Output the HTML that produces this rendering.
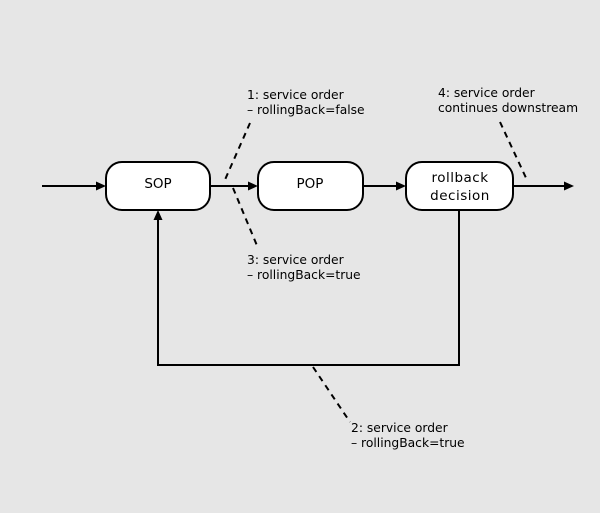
<!DOCTYPE html>
<html><head><meta charset="utf-8"><style>
html,body{margin:0;padding:0;background:#e6e6e6;}
svg{display:block;}
text{font-family:"DejaVu Sans","Liberation Sans",sans-serif;fill:#000;}
</style></head><body>
<svg width="600" height="513" viewBox="0 0 600 513" xmlns="http://www.w3.org/2000/svg">
<rect width="600" height="513" fill="#e6e6e6"/>
<g stroke="#000" stroke-width="2" fill="none">
<line x1="42" y1="186" x2="98" y2="186"/>
<line x1="211" y1="186" x2="249" y2="186"/>
<line x1="363" y1="186" x2="398" y2="186"/>
<line x1="513" y1="186" x2="565" y2="186"/>
<polyline points="459,211 459,365 158,365 158,219"/>
</g>
<g fill="#000">
<polygon points="106,186 96,181.5 96,190.5"/>
<polygon points="258,186 248,181.5 248,190.5"/>
<polygon points="406,186 396,181.5 396,190.5"/>
<polygon points="574,186 564,181.5 564,190.5"/>
<polygon points="158,210 153.5,220 162.5,220"/>
</g>
<g stroke="#000" stroke-width="2" fill="#fff">
<rect x="106" y="162" width="104" height="48" rx="16" ry="16"/>
<rect x="258" y="162" width="105" height="48" rx="16" ry="16"/>
<rect x="406" y="162" width="107" height="48" rx="16" ry="16"/>
</g>
<g stroke="#000" stroke-width="2" stroke-dasharray="6,5" fill="none">
<line x1="250" y1="123" x2="224" y2="182"/>
<line x1="233" y1="188" x2="258" y2="248"/>
<line x1="500" y1="122" x2="527" y2="180"/>
<line x1="313" y1="367" x2="350" y2="422"/>
</g>
<g font-size="13.5" text-anchor="middle">
<text x="158" y="188">SOP</text>
<text x="310" y="188">POP</text>
<text x="460" y="182" letter-spacing="0.5">rollback</text>
<text x="460" y="200" letter-spacing="0.5">decision</text>
</g>
<g font-size="12.3">
<text x="247" y="99">1: service order</text>
<text x="247" y="114">– rollingBack=false</text>
<text x="247" y="264">3: service order</text>
<text x="247" y="279">– rollingBack=true</text>
<text x="438" y="97">4: service order</text>
<text x="438" y="112">continues downstream</text>
<text x="351" y="432">2: service order</text>
<text x="351" y="447">– rollingBack=true</text>
</g>
</svg>
</body></html>
